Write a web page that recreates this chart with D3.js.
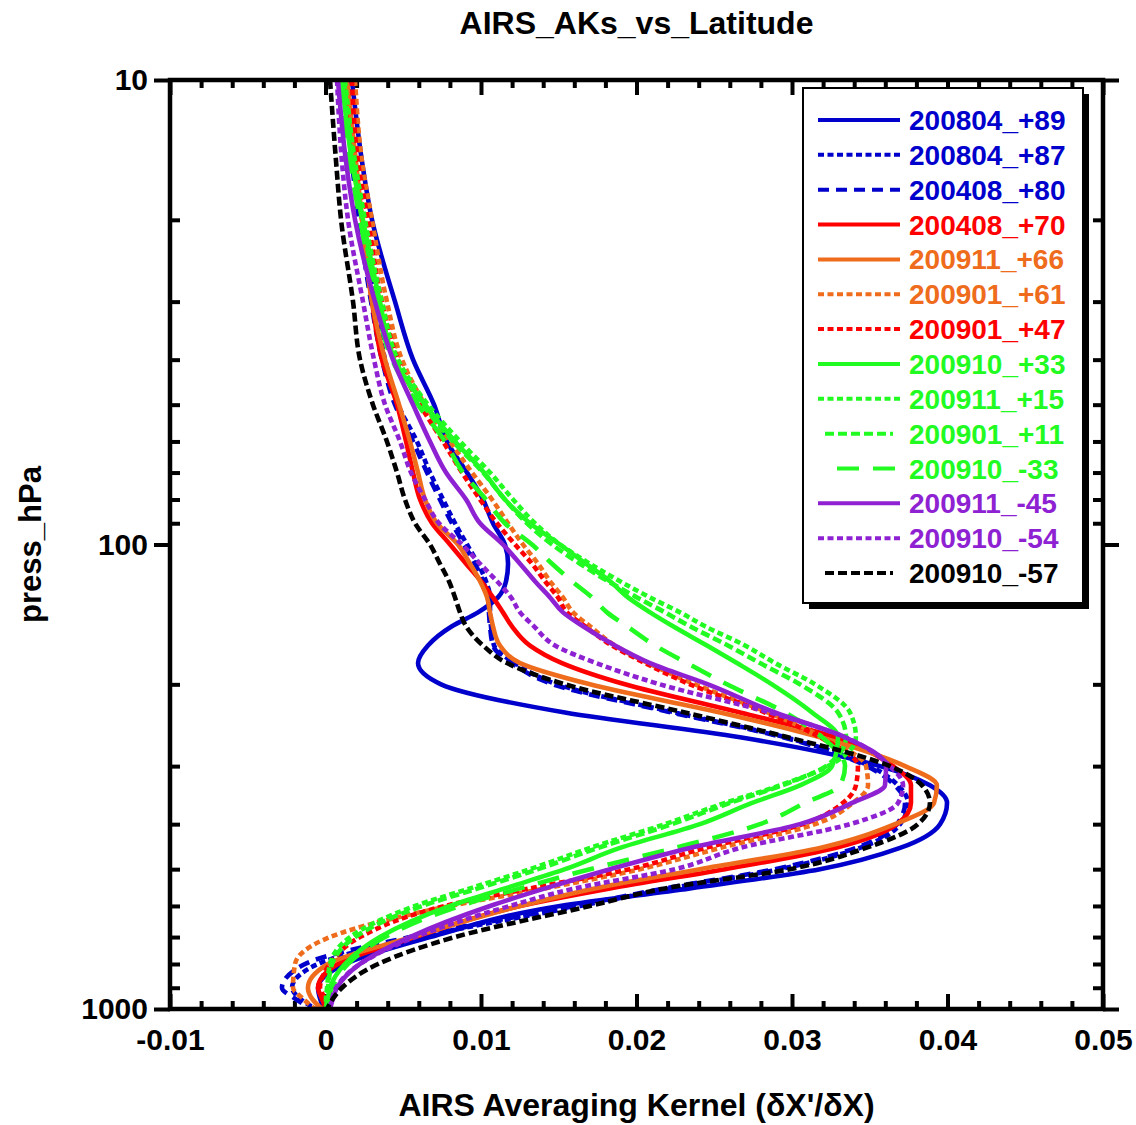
<!DOCTYPE html>
<html>
<head>
<meta charset="utf-8">
<script src="https://cdn.jsdelivr.net/npm/d3@7"></script>
<style>
  body { margin: 0; background: #fff; }
  svg text { font-family: "Liberation Sans", Arial, Helvetica, sans-serif; font-weight: bold; fill: #000; }
</style>
</head>
<body>
<svg id="chart" width="1136" height="1125"></svg>
<script>
// pressure levels (hPa), shared by every profile
const pressure = [10, 15, 20, 30, 40, 50, 60, 70, 80, 90, 100, 110, 120, 130, 140, 150, 165, 180, 200,
                  230, 260, 300, 330, 360, 400, 450, 500, 550, 600, 700, 800, 900, 950, 1000];

// averaging kernel values, one array per profile
const ak_200804_p89 = [0.00170, 0.00235, 0.00299, 0.00447, 0.00563, 0.00698, 0.00781, 0.00910, 0.01013, 0.01077, 0.01154, 0.01174, 0.01161, 0.01109, 0.00981, 0.00813, 0.00659, 0.00595, 0.00743,
                       0.01540, 0.02666, 0.03566, 0.03887, 0.03997, 0.03952, 0.03695, 0.03180, 0.02344, 0.01508, 0.00672, 0.00125, -0.00048, -0.00035, -0.00010];
const ak_200804_p87 = [0.00145, 0.00190, 0.00235, 0.00318, 0.00383, 0.00466, 0.00588, 0.00672, 0.00756, 0.00833, 0.00910, 0.00981, 0.01032, 0.01058, 0.01058, 0.01064, 0.01084, 0.01219, 0.01489,
                       0.02248, 0.02955, 0.03502, 0.03682, 0.03746, 0.03695, 0.03437, 0.02923, 0.02215, 0.01637, 0.00608, -0.00048, -0.00215, -0.00164, -0.00061];
const ak_200408_p80 = [0.00132, 0.00170, 0.00215, 0.00293, 0.00363, 0.00447, 0.00563, 0.00653, 0.00736, 0.00813, 0.00891, 0.00961, 0.01013, 0.01045, 0.01051, 0.01058, 0.01077, 0.01199, 0.01463,
                       0.02228, 0.02942, 0.03482, 0.03662, 0.03727, 0.03675, 0.03411, 0.02890, 0.02183, 0.01604, 0.00543, -0.00132, -0.00280, -0.00196, -0.00087];
const ak_200408_p70 = [0.00125, 0.00190, 0.00235, 0.00299, 0.00363, 0.00460, 0.00518, 0.00563, 0.00608, 0.00685, 0.00801, 0.00904, 0.01000, 0.01077, 0.01141, 0.01199, 0.01315, 0.01521, 0.01926,
                       0.02666, 0.03277, 0.03650, 0.03765, 0.03765, 0.03675, 0.03277, 0.02569, 0.01830, 0.01251, 0.00576, 0.00080, -0.00048, -0.00023, 0.00003];
const ak_200911_p66 = [0.00138, 0.00196, 0.00235, 0.00299, 0.00383, 0.00473, 0.00543, 0.00595, 0.00640, 0.00717, 0.00852, 0.00929, 0.00994, 0.01039, 0.01058, 0.01077, 0.01122, 0.01251, 0.01701,
                       0.02537, 0.03180, 0.03727, 0.03932, 0.03913, 0.03662, 0.03180, 0.02408, 0.01733, 0.01251, 0.00556, 0.00016, -0.00113, -0.00087, -0.00023];
const ak_200901_p61 = [0.00190, 0.00235, 0.00299, 0.00395, 0.00492, 0.00640, 0.00801, 0.00942, 0.01071, 0.01174, 0.01270, 0.01367, 0.01444, 0.01527, 0.01592, 0.01701, 0.01862, 0.02074, 0.02376,
                       0.02846, 0.03199, 0.03476, 0.03489, 0.03392, 0.03148, 0.02537, 0.02023, 0.01412, 0.00801, 0.00029, -0.00196, -0.00209, -0.00145, -0.00068];
const ak_200901_p47 = [0.00170, 0.00209, 0.00273, 0.00363, 0.00466, 0.00608, 0.00756, 0.00878, 0.00994, 0.01103, 0.01219, 0.01328, 0.01412, 0.01495, 0.01553, 0.01669, 0.01842, 0.02055, 0.02344,
                       0.02826, 0.03180, 0.03424, 0.03411, 0.03328, 0.03071, 0.02441, 0.01958, 0.01315, 0.00768, 0.00222, 0.00029, -0.00035, -0.00003, 0.00016];
const ak_200910_p33 = [0.00106, 0.00170, 0.00241, 0.00350, 0.00441, 0.00640, 0.00833, 0.01019, 0.01154, 0.01315, 0.01508, 0.01675, 0.01830, 0.01945, 0.02087, 0.02235, 0.02453, 0.02646, 0.02871,
                       0.03129, 0.03296, 0.03257, 0.03051, 0.02743, 0.02408, 0.01894, 0.01540, 0.01154, 0.00801, 0.00350, 0.00125, 0.00029, 0.00016, 0.00010];
const ak_200911_p15 = [0.00125, 0.00190, 0.00254, 0.00363, 0.00466, 0.00659, 0.00865, 0.01058, 0.01206, 0.01347, 0.01508, 0.01701, 0.01894, 0.02087, 0.02280, 0.02441, 0.02698, 0.02891, 0.03148,
                       0.03373, 0.03411, 0.03232, 0.02923, 0.02569, 0.02183, 0.01701, 0.01315, 0.00929, 0.00576, 0.00158, 0.00029, 0.00010, 0.00003, 0.00003];
const ak_200901_p11 = [0.00119, 0.00177, 0.00235, 0.00344, 0.00447, 0.00627, 0.00820, 0.01013, 0.01154, 0.01296, 0.01457, 0.01637, 0.01817, 0.02003, 0.02183, 0.02344, 0.02588, 0.02794, 0.03051,
                       0.03296, 0.03347, 0.03219, 0.02936, 0.02601, 0.02228, 0.01752, 0.01367, 0.00981, 0.00621, 0.00190, 0.00042, 0.00016, 0.00010, 0.00003];
const ak_200910_m33 = [0.00106, 0.00158, 0.00222, 0.00325, 0.00428, 0.00595, 0.00768, 0.00884, 0.01032, 0.01154, 0.01328, 0.01457, 0.01585, 0.01714, 0.01810, 0.01939, 0.02119, 0.02325, 0.02582,
                       0.02955, 0.03193, 0.03341, 0.03309, 0.03084, 0.02794, 0.02248, 0.01701, 0.01251, 0.00865, 0.00383, 0.00145, 0.00042, 0.00016, 0.00010];
const ak_200911_m45 = [0.00080, 0.00132, 0.00190, 0.00318, 0.00434, 0.00563, 0.00672, 0.00775, 0.00904, 0.00994, 0.01141, 0.01251, 0.01347, 0.01444, 0.01527, 0.01656, 0.01862, 0.02087, 0.02460,
                       0.02891, 0.03341, 0.03605, 0.03598, 0.03386, 0.03051, 0.02344, 0.01830, 0.01412, 0.01058, 0.00543, 0.00222, 0.00074, 0.00048, 0.00029];
const ak_200910_m54 = [0.00074, 0.00106, 0.00145, 0.00241, 0.00312, 0.00383, 0.00479, 0.00550, 0.00640, 0.00730, 0.00878, 0.00994, 0.01103, 0.01193, 0.01251, 0.01341, 0.01476, 0.01740, 0.02151,
                       0.02859, 0.03341, 0.03630, 0.03714, 0.03682, 0.03373, 0.02666, 0.02248, 0.01604, 0.01186, 0.00576, 0.00222, 0.00068, 0.00042, 0.00029];
const ak_200910_m57 = [0.00029, 0.00068, 0.00100, 0.00177, 0.00222, 0.00305, 0.00395, 0.00460, 0.00511, 0.00576, 0.00672, 0.00736, 0.00794, 0.00833, 0.00865, 0.00904, 0.01013, 0.01167, 0.01540,
                       0.02312, 0.02974, 0.03630, 0.03836, 0.03887, 0.03810, 0.03476, 0.02987, 0.02183, 0.01701, 0.00833, 0.00338, 0.00106, 0.00048, 0.00010];

const seriesLabels = ["200804_+89", "200804_+87", "200408_+80", "200408_+70", "200911_+66", "200901_+61", "200901_+47",
                      "200910_+33", "200911_+15", "200901_+11", "200910_-33", "200911_-45", "200910_-54", "200910_-57"];
const seriesValues = [ak_200804_p89, ak_200804_p87, ak_200408_p80, ak_200408_p70, ak_200911_p66, ak_200901_p61, ak_200901_p47,
                      ak_200910_p33, ak_200911_p15, ak_200901_p11, ak_200910_m33, ak_200911_m45, ak_200910_m54, ak_200910_m57];

const xMajor = [-0.01, 0, 0.01, 0.02, 0.03, 0.04, 0.05];
const yMajor = [10, 100, 1000];

// styles
const BLUE = "#0000cc", RED = "#ff0000", ORANGE = "#ee6c1c", GREEN = "#22fb22", PURPLE = "#8e22d2", BLACK = "#000000";
const lineColors = [BLUE, BLUE, BLUE, RED, ORANGE, ORANGE, RED, GREEN, GREEN, GREEN, GREEN, PURPLE, PURPLE, BLACK];
const DOT = "6,3.5", DASH = "11,7", SHORT = "9,4", LONG = "22,14";
const lineDashes = [null, DOT, DASH, null, null, DOT, DOT, null, DOT, SHORT, LONG, null, DOT, SHORT];
// legend sample extents, relative to the legend box
const legendSample = [[15, 97], [15, 97], [15, 97], [15, 97], [15, 97], [15, 97], [15, 97],
                      [15, 97], [15, 97], [22, 90], [34, 94], [15, 97], [15, 97], [22, 90]];

var margin = {top: 80, right: 33, bottom: 116, left: 170},
    width = 1136 - margin.left - margin.right,
    height = 1125 - margin.top - margin.bottom;

var x = d3.scaleLinear().domain([-0.01, 0.05]).range([0, width]);
var y = d3.scaleLog().domain([10, 1000]).range([0, height]);

var svg = d3.select("#chart");
svg.append("rect").attr("width", 1136).attr("height", 1125).attr("fill", "#fff");

var g = svg.append("g").attr("transform", "translate(" + margin.left + "," + margin.top + ")");

// minor tick positions
var xMinor = d3.range(-10, 51, 2).filter(d => d % 10 !== 0).map(d => d / 1000);
var yMinor = [20, 30, 40, 50, 60, 70, 80, 90, 200, 300, 400, 500, 600, 700, 800, 900];

const fmtX = d => String(d);

function styleAxis(sel, w) {
  sel.select(".domain").remove();
  sel.selectAll(".tick line").attr("stroke", "#000").attr("stroke-width", w);
  sel.selectAll(".tick text").attr("font-size", 30).attr("fill", "#000");
}

// bottom
g.append("g").attr("transform", "translate(0," + height + ")")
  .call(d3.axisBottom(x).tickValues(xMinor).tickSize(-8).tickFormat(""))
  .call(s => styleAxis(s, 4));
g.append("g").attr("transform", "translate(0," + height + ")")
  .call(d3.axisBottom(x).tickValues(xMajor).tickSize(-15).tickPadding(20).tickFormat(fmtX))
  .call(s => styleAxis(s, 4));
// top
g.append("g")
  .call(d3.axisTop(x).tickValues(xMinor).tickSize(-8).tickFormat(""))
  .call(s => styleAxis(s, 4));
g.append("g")
  .call(d3.axisTop(x).tickValues(xMajor).tickSize(-15).tickFormat(""))
  .call(s => styleAxis(s, 4));
// left
g.append("g")
  .call(d3.axisLeft(y).tickValues(yMinor).tickSize(-10).tickFormat(""))
  .call(s => styleAxis(s, 4));
g.append("g")
  .call(d3.axisLeft(y).tickValues(yMajor).tickSize(16).tickPadding(6).tickFormat(d3.format("d")))
  .call(s => styleAxis(s, 4));
// right
g.append("g").attr("transform", "translate(" + width + ",0)")
  .call(d3.axisRight(y).tickValues(yMinor).tickSize(-10).tickFormat(""))
  .call(s => styleAxis(s, 4));
g.append("g").attr("transform", "translate(" + width + ",0)")
  .call(d3.axisRight(y).tickValues(yMajor).tickSize(16).tickFormat(""))
  .call(s => styleAxis(s, 4));

// clip
svg.append("clipPath").attr("id", "plotclip")
  .append("rect").attr("x", 0).attr("y", -2).attr("width", width).attr("height", height + 2);

var line = d3.line()
  .x(d => x(d[0]))
  .y(d => y(d[1]))
  .curve(d3.curveMonotoneY);

var lines = g.append("g").attr("clip-path", "url(#plotclip)");
seriesValues.forEach((vals, i) => {
  var pts = vals.map((v, j) => [v, pressure[j]]);
  lines.append("path")
    .datum(pts)
    .attr("fill", "none")
    .attr("stroke", lineColors[i])
    .attr("stroke-width", 4.6)
    .attr("stroke-dasharray", lineDashes[i])
    .attr("d", line);
});

// frame
g.append("rect")
  .attr("width", width).attr("height", height)
  .attr("fill", "none").attr("stroke", "#000").attr("stroke-width", 4.5);

// legend
var lx = 803 - margin.left, ly = 88 - margin.top, lw = 280, lh = 515, rowH = 34.85;
var legend = g.append("g").attr("transform", "translate(" + lx + "," + ly + ")");
legend.append("rect").attr("x", 6).attr("y", 6).attr("width", lw).attr("height", lh).attr("fill", "#000");
legend.append("rect").attr("width", lw).attr("height", lh).attr("fill", "#fff").attr("stroke", "#000").attr("stroke-width", 2);
seriesLabels.forEach((lab, i) => {
  var ry = 32 + i * rowH;
  legend.append("line")
    .attr("x1", legendSample[i][0]).attr("x2", legendSample[i][1])
    .attr("y1", ry).attr("y2", ry)
    .attr("stroke", lineColors[i]).attr("stroke-width", 4)
    .attr("stroke-dasharray", lineDashes[i]);
  legend.append("text")
    .attr("x", 106).attr("y", ry).attr("dy", "0.36em")
    .attr("font-size", 28)
    .style("fill", lineColors[i])
    .text(lab);
});

// titles
svg.append("text")
  .attr("x", margin.left + width / 2).attr("y", 34)
  .attr("text-anchor", "middle").attr("font-size", 32)
  .text("AIRS_AKs_vs_Latitude");
svg.append("text")
  .attr("x", margin.left + width / 2).attr("y", 1116)
  .attr("text-anchor", "middle").attr("font-size", 32)
  .text("AIRS Averaging Kernel (\u03b4X'/\u03b4X)");
svg.append("text")
  .attr("transform", "translate(41," + (margin.top + y(100)) + ") rotate(-90)")
  .attr("text-anchor", "middle").attr("font-size", 31)
  .text("press_hPa");
</script>
</body>
</html>
